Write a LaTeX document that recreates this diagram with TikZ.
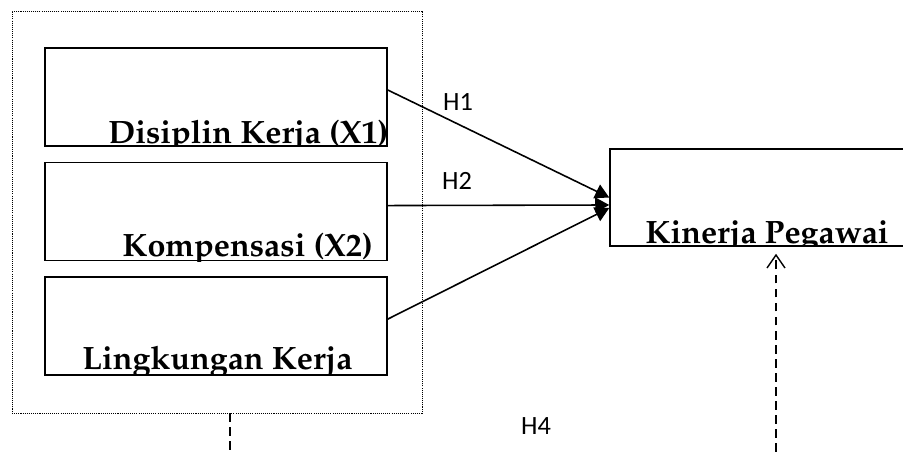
\documentclass[tikz,border=0pt]{standalone}
\usepackage[T1]{fontenc}
\usepackage{fontspec}
\newfontfamily\hfont{Carlito}
\usetikzlibrary{arrows.meta,positioning}
\newcommand{\palbold}{\fontencoding{T1}\fontfamily{ppl}\bfseries\selectfont}

\tikzset{
	varbox/.style={draw, line width=0.9pt, inner sep=0pt, minimum width=6.84cm, minimum height=1.96cm},
	groupbox/.style={draw, line width=0.4pt, dash pattern=on 0.6pt off 0.6pt, inner sep=0pt},
	vartext/.style={font=\palbold\fontsize{18.4}{20}\selectfont, inner sep=0pt, anchor=base west},
	hyp/.style={line width=0.9pt, -{Triangle[length=0.28cm, width=0.3cm]}},
	hyplabel/.style={font=\hfont\fontsize{15}{17}\selectfont, inner sep=0pt},
	dashline/.style={line width=0.8pt, dash pattern=on 5pt off 3pt}
}

\begin{document}
\begin{tikzpicture}[x=0.02cm, y=-0.02cm]
	\clip (0,0) rectangle (903,452);
	% variabel bebas
	\node[groupbox, minimum width=8.2cm, minimum height=8.04cm] (grp) at (217,212) {};
	\node[varbox] (x1) at (216,97) {};
	\node[varbox, below=0.3cm of x1] (x2) {};
	\node[varbox, below=0.3cm of x2] (x3) {};
	% variabel terikat
	\node[varbox, minimum width=6.2cm, minimum height=1.94cm] (ky) at (765,197.5) {};
	\begin{scope}
		\clip (x1.south west) rectangle (x1.north east);
		\node[vartext] (t1) at (108,144) {Disiplin Kerja (X1)};
	\end{scope}
	\begin{scope}
		\clip (x2.south west) rectangle (x2.north east);
		\node[vartext] (t2) at (122,257) {Kompensasi (X2)};
	\end{scope}
	\begin{scope}
		\clip (x3.south west) rectangle (x3.north east);
		\node[vartext] (t3) at (82,370) {Lingkungan Kerja};
	\end{scope}
	\begin{scope}
		\clip (ky.south west) rectangle (ky.north east);
		\node[vartext] (t4) at (645,244) {Kinerja Pegawai};
	\end{scope}
	% hipotesis
	\draw[hyp] ([yshift=0.14cm]x1.east) -- (ky.west);
	\draw[hyp] ([yshift=0.12cm]x2.east) -- ([yshift=-0.15cm]ky.west);
	\draw[hyp] ([yshift=0.14cm]x3.east) -- ([yshift=-0.21cm]ky.west);
	\node[hyplabel] (h1) at (458,102) {H1};
	\node[hyplabel] (h2) at (457,181) {H2};
	\node[hyplabel] (h4) at (536,426) {H4};
	\coordinate (d1) at (230,452);
	\coordinate (d2) at (776,452);
	\draw[dashline] (grp.south -| d1) -- (d1);
	\draw[dashline, -{Straight Barb[length=0.26cm, width=0.36cm]}] (d2) -- ([yshift=-0.14cm]ky.south -| d2);
\end{tikzpicture}
\end{document}
